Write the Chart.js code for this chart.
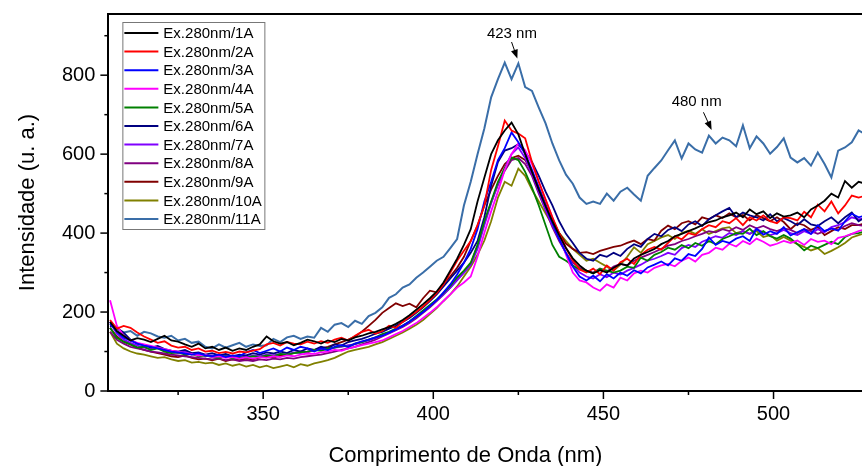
<!DOCTYPE html>
<html lang="pt">
<head>
<meta charset="UTF-8">
<title>Espectros de emissão</title>
<style>
  html, body { margin: 0; padding: 0; background: #fff; }
  #wrap { width: 862px; height: 466px; }
</style>
</head>
<body>
<div id="wrap"><canvas id="myChart"></canvas></div>
<script src="https://cdn.jsdelivr.net/npm/chart.js"></script>
<script>
// comprimento de onda (nm)
const v_wavelengths = [
  305, 307, 309, 311, 313, 315, 317, 319, 321, 323,
  325, 327, 329, 331, 333, 335, 337, 339, 341, 343,
  345, 347, 349, 351, 353, 355, 357, 359, 361, 363,
  365, 367, 369, 371, 373, 375, 377, 379, 381, 383,
  385, 387, 389, 391, 393, 395, 397, 399, 401, 403,
  405, 407, 409, 411, 413, 415, 417, 419, 421, 423,
  425, 427, 429, 431, 433, 435, 437, 439, 441, 443,
  445, 447, 449, 451, 453, 455, 457, 459, 461, 463,
  465, 467, 469, 471, 473, 475, 477, 479, 481, 483,
  485, 487, 489, 491, 493, 495, 497, 499, 501, 503,
  505, 507, 509, 511, 513, 515, 517, 519, 521, 523,
  525, 527
];

const v_ex1 = [
  175, 152, 140, 128, 134, 130, 124, 132, 140, 128,
  125, 118, 112, 120, 108, 112, 104, 110, 102, 108,
  104, 112, 118, 138, 126, 120, 124, 116, 122, 130,
  126, 120, 128, 124, 132, 128, 136, 140, 146, 150,
  156, 162, 170, 180, 192, 206, 220, 235, 252, 275,
  305, 335, 370, 410, 480, 540, 600, 635, 660, 680,
  650, 600, 555, 510, 468, 430, 395, 362, 336, 318,
  305, 298, 306, 300, 312, 322, 318, 336, 345, 352,
  360, 372, 380, 392, 398, 405, 412, 420, 428, 432,
  440, 445, 452, 440, 460, 448, 455, 438, 450, 442,
  445, 452, 440, 460, 470, 482, 500, 490, 532, 515,
  530, 525
];
const v_ex2 = [
  180, 158, 165, 160, 148, 138, 130, 122, 126, 115,
  110, 112, 104, 108, 100, 102, 96, 99, 95, 100,
  98, 102, 106, 118, 122, 115, 124, 120, 118, 125,
  120, 126, 122, 130, 135, 128, 140, 150, 155, 145,
  152, 165, 160, 175, 188, 200, 214, 230, 248, 270,
  300, 330, 355, 380, 420, 470, 560, 620, 685, 660,
  652, 640, 580, 530, 485, 440, 400, 362, 332, 308,
  300, 310, 296, 318, 305, 326, 335, 322, 345, 358,
  365, 358, 375, 392, 384, 400, 395, 410, 420, 415,
  430, 425, 438, 420, 440, 432, 445, 430, 425, 440,
  438, 432, 454, 440, 472, 455, 480, 450, 470, 495,
  490, 495
];
const v_ex3 = [
  170, 150, 135, 128, 120, 115, 112, 108, 104, 100,
  98, 95, 92, 96, 90, 88, 92, 86, 90, 88,
  98, 104, 96, 102, 108, 100, 110, 104, 112, 108,
  100, 108, 104, 112, 116, 112, 120, 126, 130, 136,
  140, 148, 156, 165, 176, 188, 200, 215, 230, 250,
  270, 295, 325, 360, 410, 480, 530, 585, 615, 655,
  630, 600, 560, 515, 470, 425, 385, 350, 315, 290,
  280, 292, 278, 296, 285, 300, 292, 306, 298, 313,
  320, 328, 318, 336, 330, 347, 342, 360, 389, 370,
  380, 375, 386, 392, 380, 411, 396, 405, 398, 415,
  394, 402, 410, 398, 420, 405, 412, 406, 430, 449,
  440, 445
];
const v_ex4 = [
  230, 165, 140, 128, 122, 118, 114, 110, 106, 102,
  100, 96, 94, 90, 92, 86, 88, 84, 86, 82,
  85, 82, 86, 84, 88, 86, 90, 88, 92, 95,
  94, 98, 100, 104, 102, 108, 112, 116, 120, 124,
  128, 136, 144, 152, 162, 172, 185, 198, 212, 228,
  245, 262, 275, 290, 340, 400, 455, 505, 560, 600,
  627, 610, 575, 530, 485, 440, 395, 345, 300, 280,
  275, 262, 254, 270, 262, 287, 280, 298, 305, 300,
  312, 318, 322, 316, 330, 338, 328, 345, 350, 363,
  358, 373, 366, 380, 372, 386, 378, 368, 373, 380,
  375, 381, 370, 385, 378, 381, 372, 388, 392, 398,
  405, 410
];
const v_ex5 = [
  160, 135, 125, 118, 110, 112, 104, 108, 100, 96,
  98, 92, 94, 88, 90, 86, 84, 88, 82, 86,
  84, 88, 86, 90, 88, 94, 92, 96, 98, 100,
  104, 102, 108, 110, 115, 112, 120, 124, 130, 136,
  144, 150, 158, 166, 176, 190, 204, 218, 232, 248,
  266, 288, 305, 325, 370, 430, 480, 530, 565, 591,
  585, 555, 515, 470, 420, 370, 340, 330, 318, 308,
  305, 298, 310, 305, 300, 305, 315, 312, 338, 330,
  345, 352, 363, 358, 370, 362, 375, 368, 380, 372,
  385, 392, 400, 398, 411, 395, 405, 392, 386, 395,
  386, 372, 356, 368, 362, 370, 378, 372, 390, 398,
  400, 405
];
const v_ex6 = [
  165, 160, 148, 130, 120, 116, 110, 114, 106, 102,
  100, 104, 96, 98, 92, 96, 90, 94, 88, 92,
  90, 96, 92, 98, 95, 100, 96, 104, 100, 108,
  104, 112, 108, 118, 115, 124, 128, 132, 138, 145,
  150, 158, 165, 175, 185, 198, 212, 228, 245, 265,
  285, 305, 325, 350, 380, 440, 520, 580, 609, 615,
  625, 605, 580, 545, 505, 470, 430, 398, 375, 350,
  335, 330, 345, 340, 350, 342, 360, 372, 365, 385,
  398, 392, 408, 415, 405, 422, 430, 418, 435, 445,
  455, 464, 440, 452, 445, 440, 432, 448, 430, 438,
  430, 420, 435, 422, 418, 430, 440, 425, 440, 452,
  430, 440
];
const v_ex7 = [
  175, 145, 130, 122, 115, 110, 106, 112, 102, 98,
  96, 100, 92, 94, 88, 90, 86, 90, 84, 88,
  86, 90, 88, 92, 90, 94, 92, 98, 96, 100,
  102, 106, 104, 110, 112, 116, 118, 124, 128, 134,
  140, 148, 155, 165, 175, 188, 200, 215, 230, 245,
  262, 280, 300, 320, 360, 420, 475, 525, 565, 600,
  617, 590, 550, 505, 460, 420, 385, 348, 318, 300,
  290, 285, 296, 288, 300, 295, 305, 312, 320, 330,
  335, 342, 350, 345, 362, 370, 365, 378, 385, 392,
  388, 400, 395, 405, 398, 410, 402, 395, 400, 408,
  400, 395, 405, 398, 410, 402, 415, 420, 428, 440,
  435, 438
];
const v_ex8 = [
  150, 130, 120, 112, 108, 104, 100, 98, 95, 92,
  90, 88, 86, 84, 82, 80, 82, 78, 80, 76,
  78, 76, 80, 78, 82, 80, 84, 82, 86, 88,
  90, 92, 96, 100, 104, 108, 112, 118, 124, 130,
  138, 146, 154, 162, 172, 184, 198, 212, 228, 244,
  262, 282, 300, 322, 368, 425, 478, 522, 558, 585,
  590, 575, 545, 500, 458, 415, 380, 350, 325, 312,
  305, 300, 310, 302, 315, 322, 318, 330, 338, 345,
  352, 360, 368, 372, 380, 385, 392, 398, 405, 402,
  410, 405, 415, 408, 420, 412, 418, 410, 405, 412,
  408, 400, 410, 405, 398, 405, 412, 408, 418, 425,
  420, 418
];
const v_ex9 = [
  160, 138, 125, 118, 110, 104, 100, 96, 92, 88,
  86, 90, 84, 80, 82, 78, 82, 76, 80, 78,
  82, 80, 85, 88, 84, 90, 92, 96, 100, 98,
  104, 108, 112, 118, 124, 130, 138, 150, 165, 180,
  198, 210, 222, 215, 221, 212, 235, 254, 250, 272,
  290, 312, 340, 380, 419, 470, 510, 545, 575, 590,
  596, 585, 555, 515, 475, 435, 400, 373, 360, 350,
  352, 347, 355, 360, 365, 368, 375, 381, 372, 385,
  381, 406, 419, 410, 425, 430, 422, 440, 435, 445,
  438, 450, 440, 446, 432, 445, 438, 430, 440, 428,
  410, 425, 420, 408, 415, 395, 405, 415, 410, 420,
  420, 425
];
const v_ex10 = [
  150, 120, 108, 100, 95, 92, 88, 84, 86, 80,
  76, 78, 72, 74, 70, 72, 66, 70, 64, 68,
  62, 66, 60, 64, 58, 62, 66, 60, 68, 64,
  70, 74, 78, 84, 92, 100, 104, 108, 112, 118,
  124, 132, 140, 148, 158, 168, 180, 195, 210, 228,
  245, 265, 290, 315, 345, 381, 430, 490, 530, 520,
  563, 545, 510, 480, 450, 420, 400, 380, 360, 345,
  330, 335, 325, 315, 305, 320, 340, 364, 350, 372,
  380, 389, 395, 385, 400, 406, 398, 410, 398, 405,
  412, 415, 400, 405, 398, 405, 390, 395, 381, 390,
  381, 372, 365, 356, 362, 347, 355, 364, 375, 389,
  395, 400
];
const v_ex11 = [
  175, 158, 148, 152, 140, 150, 146, 138, 135, 140,
  128, 132, 122, 125, 112, 108, 118, 110, 116, 122,
  112, 118, 114, 116, 132, 124, 136, 140, 132, 138,
  135, 160, 150, 168, 172, 162, 178, 170, 190, 198,
  212, 236, 245, 262, 270, 287, 300, 315, 330, 340,
  362, 385, 470, 530, 600, 665, 744, 790, 832, 790,
  830, 770, 760, 718, 678, 627, 584, 548, 525, 490,
  474, 480, 474, 500, 482, 505, 515, 498, 482, 545,
  565, 584, 610, 635, 589, 627, 612, 604, 647, 627,
  642, 635, 620, 673, 615, 645, 627, 601, 618, 640,
  591, 579, 590, 571, 604, 575, 541, 609, 617, 630,
  660, 650
];

const v_series = [v_ex1, v_ex2, v_ex3, v_ex4, v_ex5, v_ex6, v_ex7, v_ex8, v_ex9, v_ex10, v_ex11];
const v_names = ['Ex.280nm/1A', 'Ex.280nm/2A', 'Ex.280nm/3A', 'Ex.280nm/4A', 'Ex.280nm/5A', 'Ex.280nm/6A',
                 'Ex.280nm/7A', 'Ex.280nm/8A', 'Ex.280nm/9A', 'Ex.280nm/10A', 'Ex.280nm/11A'];
const v_colors = ['#000000', '#ff0000', '#0000ff', '#ff00ff', '#008000', '#000080',
                  '#8000ff', '#800080', '#800000', '#808000', '#3a6ea8'];

const v_xTicks = [325, 350, 375, 400, 425, 450, 475, 500];
const v_yTicks = [0, 100, 200, 300, 400, 500, 600, 700, 800, 900];

// setas de anotação: [texto, x do texto, y do texto, x inicio, y inicio, x fim, y fim]
const v_notes = [
  ['423 nm', 423.1, 905, 423.0, 884, 424.7, 842],
  ['480 nm', 477.4, 732, 479.4, 706, 481.8, 661]
];

const FONT = "'Liberation Sans', Arial, sans-serif";

let v_datasets = [];
for (let i = 0; i < v_series.length; i++) {
  let pts = [];
  for (let j = 0; j < v_wavelengths.length; j++) {
    pts.push({ x: v_wavelengths[j], y: v_series[i][j] });
  }
  v_datasets.push({
    label: v_names[i],
    data: pts,
    borderColor: v_colors[i],
    backgroundColor: v_colors[i],
    borderWidth: i == 10 ? 2 : 1.8,
    pointRadius: 0,
    tension: 0,
    fill: false
  });
}

// ticks, titulos, legenda e setas
const decoPlugin = {
  id: 'deco',
  afterDraw(chart) {
    const ctx = chart.ctx;
    const area = chart.chartArea;
    const sx = chart.scales.x;
    const sy = chart.scales.y;
    ctx.save();

    // borda superior
    ctx.strokeStyle = '#000';
    ctx.lineWidth = 2;
    ctx.beginPath();
    ctx.moveTo(area.left, area.top);
    ctx.lineTo(area.right, area.top);
    ctx.stroke();

    // marcas dos eixos
    ctx.lineWidth = 1.5;
    v_xTicks.forEach(v => {
      const px = sx.getPixelForValue(v);
      const len = v % 50 == 0 ? 8 : 4;
      ctx.beginPath();
      ctx.moveTo(px, area.bottom);
      ctx.lineTo(px, area.bottom + len);
      ctx.stroke();
    });
    v_yTicks.forEach(v => {
      const py = sy.getPixelForValue(v);
      const len = v % 200 == 0 ? 8 : 4;
      ctx.beginPath();
      ctx.moveTo(area.left, py);
      ctx.lineTo(area.left - len, py);
      ctx.stroke();
    });

    // titulos dos eixos
    ctx.fillStyle = '#000';
    ctx.font = '22px ' + FONT;
    ctx.textAlign = 'center';
    ctx.textBaseline = 'middle';
    ctx.fillText('Comprimento de Onda (nm)', area.left + 357, area.bottom + 65);
    ctx.save();
    ctx.translate(area.left - 80, (area.top + area.bottom) / 2);
    ctx.rotate(-Math.PI / 2);
    ctx.fillText('Intensidade (u. a.)', 0, 0);
    ctx.restore();

    // legenda
    const lx = area.left + 14;
    const ly = area.top + 8;
    const rowH = 18.6;
    ctx.strokeStyle = '#777';
    ctx.lineWidth = 1;
    ctx.strokeRect(lx + 0.5, ly + 0.5, 142, 207);
    ctx.font = '15px ' + FONT;
    ctx.textAlign = 'left';
    chart.data.datasets.forEach((ds, i) => {
      const cy = ly + 11 + rowH * i;
      ctx.strokeStyle = ds.borderColor;
      ctx.lineWidth = 2;
      ctx.beginPath();
      ctx.moveTo(lx + 2, cy);
      ctx.lineTo(lx + 36, cy);
      ctx.stroke();
      ctx.fillStyle = '#000';
      ctx.fillText(ds.label, lx + 41, cy + 1);
    });

    // setas
    ctx.font = '15px ' + FONT;
    ctx.textAlign = 'center';
    v_notes.forEach(n => {
      ctx.fillStyle = '#000';
      ctx.fillText(n[0], sx.getPixelForValue(n[1]), sy.getPixelForValue(n[2]));
      const x1 = sx.getPixelForValue(n[3]), y1 = sy.getPixelForValue(n[4]);
      const x2 = sx.getPixelForValue(n[5]), y2 = sy.getPixelForValue(n[6]);
      const ang = Math.atan2(y2 - y1, x2 - x1);
      ctx.strokeStyle = '#000';
      ctx.lineWidth = 1;
      ctx.beginPath();
      ctx.moveTo(x1, y1);
      ctx.lineTo(x2 - 6 * Math.cos(ang), y2 - 6 * Math.sin(ang));
      ctx.stroke();
      ctx.beginPath();
      ctx.moveTo(x2, y2);
      ctx.lineTo(x2 - 9 * Math.cos(ang) + 3.5 * Math.sin(ang), y2 - 9 * Math.sin(ang) - 3.5 * Math.cos(ang));
      ctx.lineTo(x2 - 9 * Math.cos(ang) - 3.5 * Math.sin(ang), y2 - 9 * Math.sin(ang) + 3.5 * Math.cos(ang));
      ctx.closePath();
      ctx.fill();
    });

    ctx.restore();
  }
};

const ctx = document.getElementById('myChart');
new Chart(ctx, {
  type: 'line',
  data: { datasets: v_datasets },
  options: {
    responsive: true,
    maintainAspectRatio: false,
    animation: false,
    layout: { padding: { left: 49, right: 0, top: 0, bottom: 29 } },
    plugins: { legend: { display: false }, tooltip: { enabled: false } },
    scales: {
      x: {
        type: 'linear',
        min: 304.5,
        max: 526,
        afterBuildTicks: s => { s.ticks = v_xTicks.map(v => ({ value: v })); },
        ticks: {
          autoSkip: false,
          maxRotation: 0,
          padding: 11,
          color: '#000',
          font: { family: FONT, size: 20 },
          callback: v => (v % 50 == 0 ? String(v) : '')
        },
        grid: { display: false, drawTicks: false },
        border: { display: true, color: '#000', width: 2 }
      },
      y: {
        min: 0,
        max: 955,
        afterBuildTicks: s => { s.ticks = v_yTicks.map(v => ({ value: v })); },
        ticks: {
          autoSkip: false,
          padding: 13,
          color: '#000',
          font: { family: FONT, size: 20, lineHeight: 0.1 },
          callback: v => (v % 200 == 0 ? String(v) : '')
        },
        grid: { display: false, drawTicks: false },
        border: { display: true, color: '#000', width: 2 }
      }
    }
  },
  plugins: [decoPlugin]
});
</script>
</body>
</html>
